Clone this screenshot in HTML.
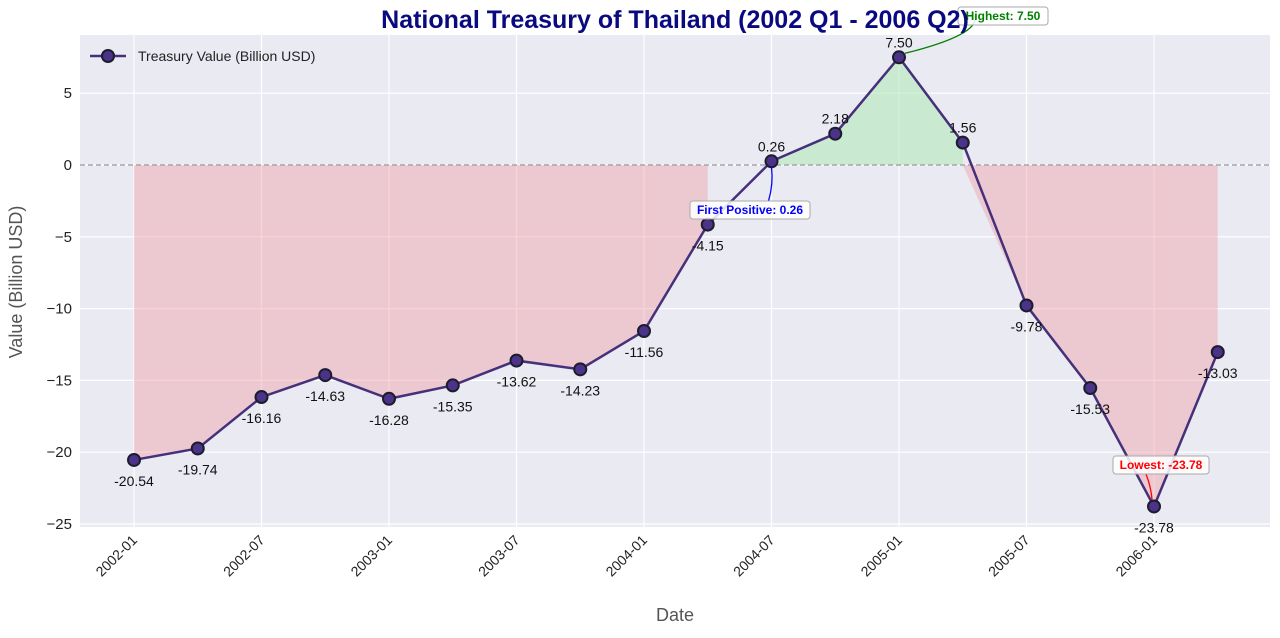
<!DOCTYPE html>
<html><head><meta charset="utf-8"><style>
body{margin:0;background:#fff;font-family:"Liberation Sans","DejaVu Sans",sans-serif}
svg text{font-family:"Liberation Sans","DejaVu Sans",sans-serif}
</style></head><body>
<svg id="c" width="1280" height="633" xmlns="http://www.w3.org/2000/svg"></svg>
<script>
const dates=["2002-01","2002-04","2002-07","2002-10","2003-01","2003-04","2003-07","2003-10","2004-01","2004-04","2004-07","2004-10","2005-01","2005-04","2005-07","2005-10","2006-01","2006-04"];
const values=[-20.54,-19.74,-16.16,-14.63,-16.28,-15.35,-13.62,-14.23,-11.56,-4.15,0.26,2.18,7.50,1.56,-9.78,-15.53,-23.78,-13.03];
const xTickLabels=["2002-01","2002-07","2003-01","2003-07","2004-01","2004-07","2005-01","2005-07","2006-01"];
const yTicks=[-25,-20,-15,-10,-5,0,5];
const svg=document.getElementById('c');const NS="http://www.w3.org/2000/svg";
const L=80,R=1270,T=35,B=527;
const X=i=>134+i*63.75;
const Y=v=>165-v*14.36;
function mk(t,a,p){const e=document.createElementNS(NS,t);for(const k in a)e.setAttribute(k,a[k]);(p||svg).appendChild(e);return e;}
function tx(s,a){const e=mk('text',a);e.textContent=s;return e;}
const bg=mk('rect',{x:L,y:T,width:R-L,height:B-T,fill:'#eaeaf2'});


yTicks.forEach(v=>{const g=mk('line',{x1:L,x2:R,y1:Y(v),y2:Y(v),stroke:'#fff','stroke-width':1.2});


const t=tx(String(v).replace('-','−'),{x:L-8,y:Y(v)+5,'text-anchor':'end','font-size':15,fill:'#222'});

});
xTickLabels.forEach(d=>{const i=dates.indexOf(d);const x=X(i);
const g=mk('line',{x1:x,x2:x,y1:T,y2:B,stroke:'#fff','stroke-width':1.2});


const t=tx(d,{x:x+4,y:B+14,'text-anchor':'end','font-size':14,fill:'#222',transform:`rotate(-45 ${x+4} ${B+14})`});

});
// fills
function poly(idx,start){let pts=[];if(start!=null)pts.push([X(start),Y(0)]);else pts.push([X(idx[0]),Y(0)]);
idx.forEach(i=>pts.push([X(i),Y(values[i])]));pts.push([X(idx[idx.length-1]),Y(0)]);return pts.map(p=>p.join(',')).join(' ');}
const neg1=[],pos=[],neg2=[];values.forEach((v,i)=>{if(v<0&&i<10)neg1.push(i);else if(v>=0)pos.push(i);else neg2.push(i);});
let f=mk('polygon',{points:poly(neg1),fill:'#f0a0a8','fill-opacity':0.45});


f=mk('polygon',{points:poly(pos),fill:'#a8e8b0','fill-opacity':0.5});


f=mk('polygon',{points:poly(neg2,pos[pos.length-1]),fill:'#f0a0a8','fill-opacity':0.45});


const z=mk('line',{x1:L,x2:R,y1:Y(0),y2:Y(0),stroke:'#999','stroke-dasharray':'5,3','stroke-width':1.2});


const ln=mk('polyline',{points:values.map((v,i)=>X(i)+','+Y(v)).join(' '),fill:'none',stroke:'#46307a','stroke-width':2.5});


values.forEach((v,i)=>{const c=mk('circle',{cx:X(i),cy:Y(v),r:6,fill:'#4a3388',stroke:'#1c1c2c','stroke-width':2});


const above=v>=0;const t=tx(v.toFixed(2),{x:X(i),y:above?Y(v)-10:Y(v)+26,'text-anchor':'middle','font-size':14,fill:'#111'});

});
// annotations
function ann(txt,bx,by,w,col,ex,ey,ax,ay,name){const g=mk('g',{});
mk('path',{d:`M${ax},${ay} Q${ax+5},${(ay+ey)/2} ${ex},${ey}`,fill:'none',stroke:col,'stroke-width':1.3},g);
mk('rect',{x:bx,y:by,width:w,height:18,rx:3,fill:'#fff','fill-opacity':0.85,stroke:'#aaa'},g);
const t=mk('text',{x:bx+w/2,y:by+13,'text-anchor':'middle','font-size':12,'font-weight':'bold',fill:col},g);t.textContent=txt;}
ann('First Positive: 0.26',690,201,120,'blue',X(10),Y(0.26)+6,X(10)-3,201,'first-positive-annotation');
ann('Highest: 7.50',958,7,90,'green',X(12)+6,Y(7.5)-4,975,16,'highest-annotation');
ann('Lowest: -23.78',1113,456,96,'red',X(16)-2,Y(-23.78)-7,X(16)-8,474,'lowest-annotation');
// title & labels
let t=tx('National Treasury of Thailand (2002 Q1 - 2006 Q2)',{x:675,y:28,'text-anchor':'middle','font-size':25,'font-weight':'bold',fill:'#0a0a80'});

t=tx('Date',{x:675,y:621,'text-anchor':'middle','font-size':18,fill:'#555'});

t=tx('Value (Billion USD)',{x:22,y:282,'text-anchor':'middle','font-size':18,fill:'#555',transform:'rotate(-90 22 282)'});

// legend
const lg=mk('g',{});
mk('line',{x1:90,x2:126,y1:56,y2:56,stroke:'#46307a','stroke-width':2.5},lg);
mk('circle',{cx:108,cy:56,r:6,fill:'#4a3388',stroke:'#1c1c2c','stroke-width':2},lg);
const lt=mk('text',{x:138,y:61,'font-size':14,fill:'#222'},lg);lt.textContent='Treasury Value (Billion USD)';
</script>
</body></html>
